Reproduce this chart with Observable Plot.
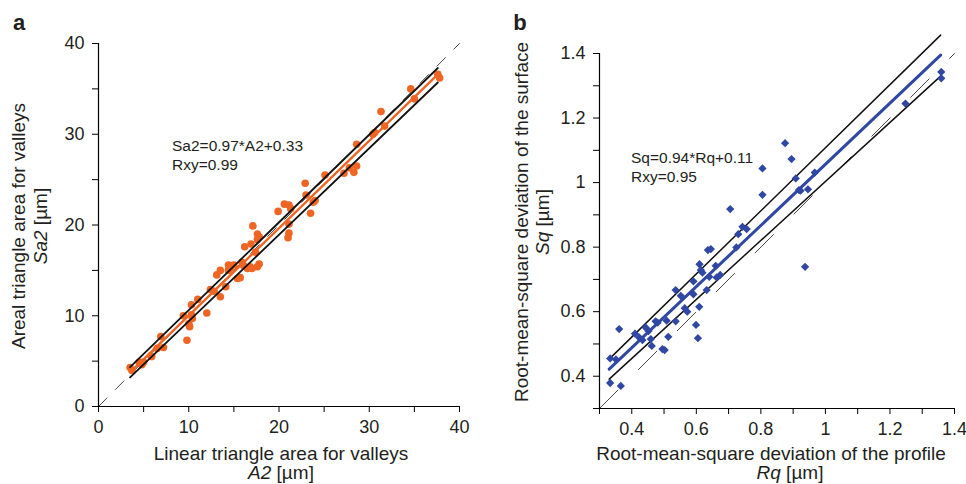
<!DOCTYPE html>
<html><head><meta charset="utf-8">
<script src="https://cdn.jsdelivr.net/npm/d3@7"></script>
<script src="https://cdn.jsdelivr.net/npm/@observablehq/plot@0.6"></script>
<style>
body{margin:0;background:#fff;}
#wrap{position:relative;width:966px;height:484px;overflow:hidden;font-family:"Liberation Sans",Arial,Helvetica,sans-serif;}
#wrap svg{position:absolute;top:0;}
</style></head><body><div id="wrap"></div>
<script>
// ---------- Panel a data ----------
const A2 = [3.5,3.7,4.5,4.8,5.0,5.8,5.9,6.5,6.9,7.2,9.4,9.8,10.0,10.1,10.4,10.3,10.3,11.0,12.0,12.4,12.8,13.1,13.5,13.5,14.1,14.4,14.4,14.6,15.0,15.4,15.7,15.9,16.1,16.5,16.8,16.2,16.9,17.0,17.1,17.4,17.6,17.8,17.6,17.8,17.6,19.9,20.6,21.1,21.3,21.1,21.1,21.0,22.9,23.0,23.5,23.8,24.0,25.1,27.2,27.8,28.3,28.6,28.6,30.4,30.6,31.3,31.7,34.6,35.0,37.6,37.8];
const Sa2 = [4.3,4.0,4.9,4.6,4.9,5.6,5.5,6.4,7.7,6.5,10.0,7.3,9.1,8.8,9.7,10.1,11.2,11.8,10.3,12.9,12.7,14.5,15.0,12.1,13.2,15.6,15.0,15.2,15.6,14.1,14.2,15.9,15.5,15.2,15.4,17.6,17.9,15.2,19.9,17.0,19.0,18.7,18.4,15.7,15.4,21.5,22.3,22.2,21.8,20.1,19.1,18.6,24.6,23.3,21.3,22.5,22.7,25.5,25.7,26.3,25.8,26.5,28.9,30.0,30.2,32.5,30.9,35.0,33.9,36.6,36.2];
const fitAx = [3.5, 37.8], fitAy = [3.75, 36.8];
const upAx = [3.5, 37.6], upAy = [4.35, 37.3];
const loAx = [3.5, 37.6], loAy = [3.2, 35.7];
const idA = [0, 40];
const ticksA = [0,5,10,15,20,25,30,35,40];
const labelsA = [0,10,20,30,40];
const eqA = ["Sa2=0.97*A2+0.33", "Rxy=0.99"];

// ---------- Panel b data ----------
const Rq = [0.333,0.366,0.333,0.351,0.361,0.410,0.423,0.433,0.443,0.452,0.462,0.459,0.474,0.480,0.495,0.502,0.508,0.513,0.536,0.536,0.552,0.564,0.572,0.591,0.591,0.599,0.605,0.609,0.610,0.614,0.619,0.632,0.636,0.645,0.640,0.660,0.663,0.674,0.705,0.724,0.730,0.743,0.756,0.805,0.805,0.875,0.895,0.908,0.918,0.923,0.937,0.946,0.967,1.248,1.359,1.359];
const Sq = [0.379,0.370,0.455,0.452,0.546,0.532,0.520,0.512,0.551,0.540,0.494,0.515,0.570,0.566,0.484,0.481,0.572,0.522,0.667,0.570,0.649,0.611,0.600,0.694,0.654,0.559,0.518,0.615,0.747,0.729,0.721,0.667,0.791,0.794,0.708,0.742,0.706,0.714,0.918,0.799,0.840,0.863,0.856,1.044,0.962,1.122,1.073,1.013,0.977,0.975,0.739,0.979,1.031,1.245,1.343,1.323];
const fitBx = [0.33, 1.357], fitBy = [0.422, 1.395];
const upBx = [0.33, 1.357], upBy = [0.453, 1.457];
const loBx = [0.33, 1.357], loBy = [0.391, 1.33];
const idB = [0.3, 1.4];
const ticksB = [0.3,0.4,0.5,0.6,0.7,0.8,0.9,1.0,1.1,1.2,1.3,1.4];
const labelsB = [0.4,0.6,0.8,1.0,1.2,1.4];
const eqB = ["Sq=0.94*Rq+0.11", "Rxy=0.95"];

const ORANGE = "#ef6524", BLUE = "#3047a3", INK = "#231f20";
const FONT = "'Liberation Sans', Arial, Helvetica, sans-serif";
const wrap = document.getElementById("wrap");

function seg(xs, ys) { return xs.map((x, i) => ({x, y: ys[i]})); }
function fmt(labels) { return d => labels.some(l => Math.abs(l - d) < 1e-9) ? String(+d.toFixed(1)) : ""; }

// ---------- Panel a ----------
const plotA = Plot.plot({
  width: 483, height: 484,
  marginLeft: 98, marginRight: 24, marginTop: 43, marginBottom: 78,
  x: {domain: [0, 40]}, y: {domain: [0, 40]},
  style: {fontFamily: FONT, fontSize: "18px", color: INK, background: "transparent", overflow: "visible"},
  marks: [
    Plot.line(seg(idA, idA), {x: "x", y: "y", stroke: "#333", strokeWidth: 0.9, strokeDasharray: "12,12"}),
    Plot.dot(A2.map((x, i) => ({x, y: Sa2[i]})), {x: "x", y: "y", r: 3.8, fill: ORANGE, stroke: "none"}),
    Plot.line(seg(upAx, upAy), {x: "x", y: "y", stroke: "#111", strokeWidth: 1.8}),
    Plot.line(seg(loAx, loAy), {x: "x", y: "y", stroke: "#111", strokeWidth: 1.8}),
    Plot.line(seg(fitAx, fitAy), {x: "x", y: "y", stroke: ORANGE, strokeWidth: 2.4}),
    Plot.ruleX([0], {y1: 0, y2: 40, stroke: "#000", strokeWidth: 1.2}),
    Plot.ruleY([0], {x1: 0, x2: 40, stroke: "#000", strokeWidth: 1.2}),
    Plot.axisX(ticksA, {tickSize: 6, tickPadding: 8, tickFormat: fmt(labelsA), label: null, stroke: "#000"}),
    Plot.axisY(ticksA, {tickSize: 6, tickPadding: 8, tickFormat: fmt(labelsA), label: null, stroke: "#000"})
  ]
});
plotA.style.left = "0px";
wrap.appendChild(plotA);

// ---------- Panel b ----------
const plotB = Plot.plot({
  width: 483, height: 484,
  marginLeft: 116, marginRight: 12, marginTop: 53, marginBottom: 76,
  x: {domain: [0.3, 1.4]}, y: {domain: [0.3, 1.4]},
  style: {fontFamily: FONT, fontSize: "18px", color: INK, background: "transparent", overflow: "visible"},
  marks: [
    Plot.line(seg(idB, idB), {x: "x", y: "y", stroke: "#333", strokeWidth: 0.9, strokeDasharray: "26,29"}),
    Plot.line(seg(upBx, upBy), {x: "x", y: "y", stroke: "#111", strokeWidth: 1.5}),
    Plot.line(seg(loBx, loBy), {x: "x", y: "y", stroke: "#111", strokeWidth: 1.5}),
    Plot.line(seg(fitBx, fitBy), {x: "x", y: "y", stroke: BLUE, strokeWidth: 3}),
    Plot.dot(Rq.map((x, i) => ({x, y: Sq[i]})), {x: "x", y: "y", symbol: "square", r: 3.3, rotate: 45, fill: BLUE, stroke: "none"}),
    Plot.ruleX([0.3], {y1: 0.3, y2: 1.4, stroke: "#000", strokeWidth: 1.2}),
    Plot.ruleY([0.3], {x1: 0.3, x2: 1.4, stroke: "#000", strokeWidth: 1.2}),
    Plot.axisX(ticksB, {tickSize: 6, tickPadding: 8, tickFormat: fmt(labelsB), label: null, stroke: "#000"}),
    Plot.axisY(ticksB, {tickSize: 6, tickPadding: 8, tickFormat: fmt(labelsB), label: null, stroke: "#000"})
  ]
});
plotB.style.left = "483px";
wrap.appendChild(plotB);

// ---------- Text (titles, annotations, panel letters) ----------
function addText(svg, x, y, parts, opts = {}) {
  const t = d3.select(svg).append("text")
    .attr("x", opts.rotate ? null : x).attr("y", opts.rotate ? null : y)
    .attr("transform", opts.rotate ? `translate(${x},${y}) rotate(-90)` : null)
    .attr("text-anchor", opts.anchor || "middle")
    .attr("font-family", FONT)
    .attr("font-size", opts.size || 19)
    .attr("font-weight", opts.weight || "normal")
    .attr("fill", INK);
  for (const p of parts) {
    const s = t.append("tspan").text(p[0]);
    if (p[1]) s.attr("font-style", "italic");
  }
}
// panel a
addText(plotA, 19, 30, [["a"]], {size: 22, weight: "bold"});
addText(plotA, 25, 226, [["Areal triangle area for valleys"]], {rotate: true});
addText(plotA, 47, 226, [["Sa2", true], [" [µm]"]], {rotate: true});
addText(plotA, 281, 460, [["Linear triangle area for valleys"]]);
addText(plotA, 281, 479, [["A2", true], [" [µm]"]]);
addText(plotA, 172, 151, [[eqA[0]]], {anchor: "start", size: 15.5});
addText(plotA, 172, 170, [[eqA[1]]], {anchor: "start", size: 15.5});
// panel b (coords relative to its svg at left 483)
addText(plotB, 520 - 483, 30, [["b"]], {size: 22, weight: "bold"});
addText(plotB, 528 - 483, 222, [["Root-mean-square deviation of the surface"]], {rotate: true});
addText(plotB, 549 - 483, 222, [["Sq", true], [" [µm]"]], {rotate: true});
addText(plotB, 771 - 483, 460, [["Root-mean-square deviation of the profile"]]);
addText(plotB, 790 - 483, 479, [["Rq", true], [" [µm]"]]);
addText(plotB, 631 - 483, 163, [[eqB[0]]], {anchor: "start", size: 15.5});
addText(plotB, 631 - 483, 182, [[eqB[1]]], {anchor: "start", size: 15.5});
</script>
</body></html>
